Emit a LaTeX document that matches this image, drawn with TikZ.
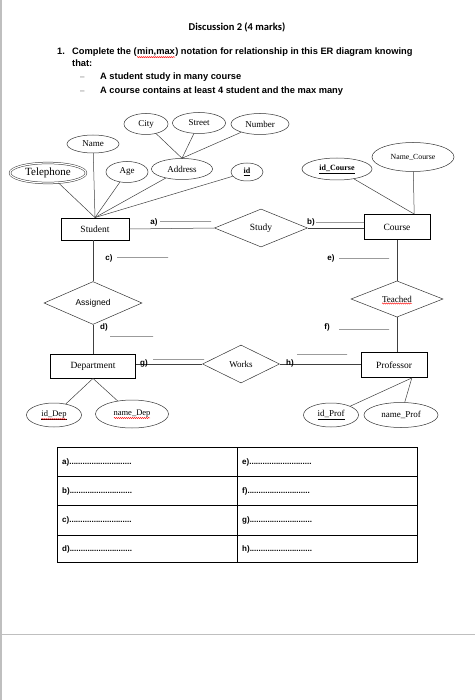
\documentclass[tikz,border=0pt]{standalone}
\usepackage{fontspec}
\setmainfont{Liberation Serif}
\newfontfamily\arialfont{Liberation Sans}
\newfontfamily\calibrifont{Carlito}
\usetikzlibrary{shapes.geometric,positioning,decorations.pathmorphing}
\tikzset{
  attr/.style={ellipse, draw=black!80, line width=0.5pt, inner sep=0pt, font=\fontsize{9}{10}\selectfont},
  entity/.style={draw, line width=0.9pt, inner sep=0pt, font=\fontsize{9.5}{11}\selectfont},
  rel/.style={diamond, draw=black!80, line width=0.5pt, inner sep=0pt, font=\fontsize{9.5}{11}\selectfont},
  link/.style={draw=black!75, line width=0.5pt},
  tag/.style={font=\arialfont\bfseries\fontsize{8}{9}\selectfont, inner sep=1pt},
  slot/.style={draw=black!60, line width=0.5pt, minimum width=#1, minimum height=0pt, inner sep=0pt},
  slot/.default=50pt,
  qtext/.style={anchor=base west, inner sep=0pt, font=\arialfont\bfseries\fontsize{9.3}{11}\selectfont},
  cell/.style={anchor=west, inner sep=0pt, font=\arialfont\bfseries\fontsize{8}{9}\selectfont},
  wave/.style={red, line width=0.4pt, decorate, decoration={snake, amplitude=0.6pt, segment length=2pt}}
}
\begin{document}
\begin{tikzpicture}[x=1pt,y=-1pt]
\useasboundingbox (0,0) rectangle (475,700);
\draw[black!25, line width=1.5pt] (1,0) -- (1,700);
\draw[black!25, line width=0.8pt] (0,634) -- (475,634);

\node[font=\calibrifont\bfseries\fontsize{10.5}{12}\selectfont] (title) at (237,27) {Discussion 2 (4 marks)};
\node[qtext] (qnum) at (57,54.5) {1.};
\node[qtext] (q1a) at (72,54.5) {Complete the (};
\node[qtext, base right=0pt of q1a] (qmm) {min,max};
\node[qtext, base right=0pt of qmm] (q1b) {) notation for relationship in this ER diagram knowing};
\node[qtext] (q2) at (72,67) {that:};
\node[qtext, font=\arialfont\fontsize{8}{9}\selectfont, text=black!60] (dash1) at (80,80) {\textendash};
\node[qtext, font=\arialfont\fontsize{8}{9}\selectfont, text=black!60] (dash2) at (80,94) {\textendash};
\node[qtext] (q3) at (100,80) {A student study in many course};
\node[qtext] (q4) at (100,94) {A course contains at least 4 student and the max many};
\draw[wave] ([yshift=-1pt]qmm.south west) -- ([yshift=-1pt]qmm.south east);

\node[attr, minimum width=44pt, minimum height=21pt] (city) at (146,124) {City};
\node[attr, minimum width=53pt, minimum height=21pt] (street) at (199,123) {Street};
\node[attr, minimum width=58pt, minimum height=21pt] (number) at (260,124) {Number};
\node[attr, minimum width=52pt, minimum height=18pt] (name) at (93,144) {Name};
\node[attr, double, double distance=1.2pt, minimum width=76pt, minimum height=20pt, font=\fontsize{11}{12}\selectfont] (tel) at (48,173) {Telephone};
\node[attr, minimum width=42pt, minimum height=21pt] (age) at (127,172) {Age};
\node[attr, minimum width=61pt, minimum height=21pt] (address) at (182,169) {Address};
\node[attr, minimum width=32pt, minimum height=18pt, font=\bfseries\fontsize{8}{9}\selectfont] (sid) at (247,172) {\underline{id}};
\node[attr, minimum width=70pt, minimum height=22pt, font=\bfseries\fontsize{8}{9}\selectfont] (idc) at (337,169) {\underline{id\_Course}};
\node[attr, minimum width=82pt, minimum height=29pt, font=\fontsize{7.8}{9}\selectfont] (namec) at (413,157) {Name\_Course};

\node[entity, minimum width=68pt, minimum height=22pt] (student) at (95,229) {Student};
\node[rel, minimum width=93pt, minimum height=38pt] (study) at (261,228) {Study};
\node[entity, minimum width=66pt, minimum height=25pt] (course) at (397,227) {Course};
\node[rel, minimum width=92pt, minimum height=36pt, font=\fontsize{9}{10}\selectfont] (teached) at (397,299) {Teached};
\node[rel, minimum width=98pt, minimum height=35pt, font=\arialfont\fontsize{8.5}{10}\selectfont] (assigned) at (93,303) {Assigned};
\node[entity, minimum width=85pt, minimum height=24pt] (dept) at (93,366) {Department};
\node[rel, minimum width=77pt, minimum height=38pt, font=\fontsize{9}{10}\selectfont] (works) at (241,364) {Works};
\node[entity, minimum width=66pt, minimum height=25pt] (prof) at (394,365) {Professor};

\node[attr, minimum width=55pt, minimum height=24pt, font=\fontsize{8.5}{10}\selectfont] (idd) at (54,415) {\underline{id\_Dep}};
\node[attr, minimum width=73pt, minimum height=28pt, font=\fontsize{8.5}{10}\selectfont] (named) at (132,414) {name\_Dep};
\node[attr, minimum width=55pt, minimum height=24pt] (idp) at (331,415) {\underline{id\_Prof}};
\node[attr, minimum width=74pt, minimum height=25pt] (namep) at (401,415) {name\_Prof};
\draw[wave] ([xshift=-15pt,yshift=-4.5pt]teached.center) -- ([xshift=15pt,yshift=-4.5pt]teached.center);
\draw[wave] ([xshift=-12.5pt,yshift=-4pt]idd.center) -- ([xshift=12.5pt,yshift=-4pt]idd.center);
\draw[wave] ([xshift=-18pt,yshift=-4pt]named.center) -- ([xshift=18pt,yshift=-4pt]named.center);

\foreach \a in {tel,name,age,address,sid} \draw[link] (\a) -- (student.north);
\foreach \a in {city,street,number} \draw[link] (\a) -- (address.north);
\foreach \a in {idc,namec} \draw[link] (\a) -- (course.37);
\foreach \a in {idd,named} \draw[link] (\a) -- (dept.south);
\foreach \a in {idp,namep} \draw[link] (\a) -- (prof.-36);
\draw[link] (student.east) -- (study.west);
\draw[link] (study.east) -- (study.east -| course.west);
\draw[link] (course) -- (teached);
\draw[link] (teached.south) -- (teached.south |- prof.north);
\draw[link] (assigned.north |- student.south) -- (assigned.north);
\draw[link] (assigned) -- (dept);
\draw[link] (dept.east |- works.west) -- (works.west);
\draw[link] (works.east) -- (works.east -| prof.west);

\node[tag] (la) at (154,222) {a)};
\node[tag] (lb) at (311,222) {b)};
\node[tag] (lc) at (109,258) {c)};
\node[tag] (ld) at (104,327) {d)};
\node[tag] (le) at (331,258) {e)};
\node[tag] (lf) at (327,327) {f)};
\node[tag] (lg) at (144,363) {g)};
\node[tag] (lh) at (290,363) {h)};
\node[slot=51pt] (sa) at (185.5,221) {};
\node[slot=48pt] (sb) at (340,222) {};
\node[slot=51pt] (sc) at (142.5,257) {};
\node[slot=43pt] (sd) at (131.5,336) {};
\node[slot=50pt] (se) at (364,258) {};
\node[slot=50pt] (sf) at (364,329) {};
\node[slot=51pt] (sg) at (178.5,359) {};
\node[slot=50pt] (sh) at (322,354) {};

\draw[line width=1pt] (57,447) rectangle (417,562);
\draw[line width=1pt] (237,447) -- (237,562);
\foreach \y in {476,505,535} \draw[line width=1pt] (57,\y) -- (417,\y);
\foreach \l/\r/\y in {a/e/462,b/f/491,c/g/520,d/h/549} {
  \node[cell] (t\l) at (62,\y) {\l)............................};
  \node[cell] (t\r) at (242,\y) {\r)............................};
}
\end{tikzpicture}
\end{document}
